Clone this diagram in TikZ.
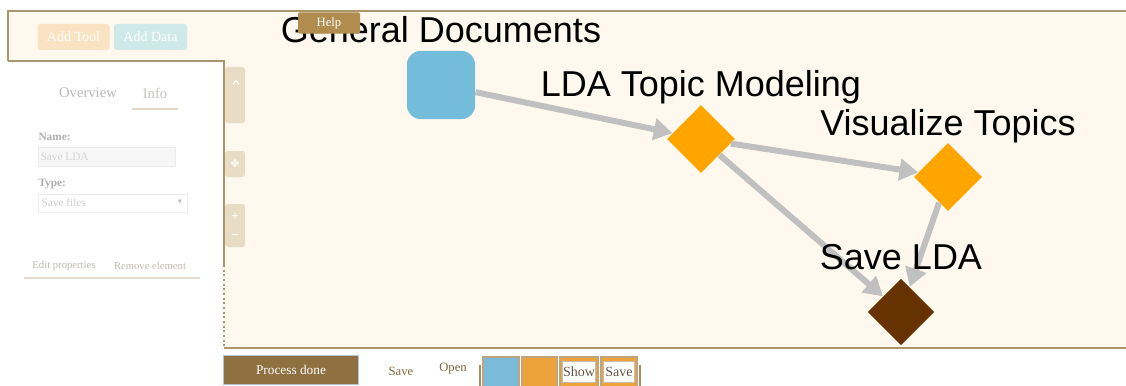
\documentclass[tikz,border=0pt]{standalone}
\usepackage{fontspec}
\setmainfont{Liberation Serif}
\setsansfont{Liberation Sans}
\newfontfamily\symfont{DejaVu Sans}
\usetikzlibrary{shapes.geometric,arrows.meta,positioning}

\tikzset{every picture/.style={line width=0.75pt}}
\tikzset{
  doclabel/.style={font=\sffamily\fontsize{27}{30}\selectfont, inner sep=0pt, anchor=base},
  datanode/.style={fill={rgb, 255:red, 116; green, 189; blue, 218}, rounded corners=10pt, minimum size=51pt, inner sep=0pt},
  toolnode/.style={diamond, fill={rgb, 255:red, 255; green, 165; blue, 0}, minimum size=51pt, inner sep=0pt},
  savenode/.style={diamond, fill={rgb, 255:red, 102; green, 51; blue, 0}, minimum size=50pt, inner sep=0pt},
  flow/.style={draw={rgb, 255:red, 192; green, 192; blue, 192}, line width=4.5pt, -{Triangle[length=14pt,width=16pt]}},
  canvasline/.style={draw={rgb, 255:red, 172; green, 150; blue, 112}, line width=1.5pt},
  panelfont/.style={font=\fontsize{8}{10}\selectfont, inner sep=0pt},
  sidetab/.style={fill={rgb, 255:red, 233; green, 220; blue, 196}, rounded corners=2pt},
  swatch/.style={draw={rgb, 255:red, 190; green, 165; blue, 125}, line width=1.5pt},
}

\begin{document}
\begin{tikzpicture}[x=0.75pt,y=0.75pt,yscale=-1,xscale=1]
\fill[white] (0,0) rectangle (1126,385);
\useasboundingbox (0,0) rectangle (1126,385);

%Canvas
\fill[fill={rgb, 255:red, 254; green, 248; blue, 238}] (8,11) -- (1126,11) -- (1126,348) -- (224,348) -- (224,61) -- (8,61) -- cycle ;
\draw[canvasline] (8,61) -- (8,11) -- (1126,11) ;
\draw[canvasline] (8,61) -- (224,61) -- (224,265) ;
\draw[canvasline, dotted] (224,265) -- (224,348) ;
\draw[canvasline] (224,348) -- (1126,348) ;

%Top buttons
\node[fill={rgb, 255:red, 249; green, 227; blue, 194}, rounded corners=2pt, minimum width=54pt, minimum height=19.5pt, text=white, font=\fontsize{10.5}{12}\selectfont] (addtool) at (73.5,37) {Add Tool};
\node[fill={rgb, 255:red, 207; green, 232; blue, 234}, rounded corners=2pt, minimum width=55pt, minimum height=19.5pt, text=white, font=\fontsize{10.5}{12}\selectfont] (adddata) at (150.5,37) {Add Data};

%Side tabs
\fill[sidetab] (225,67) rectangle (245,123) ;
\fill[sidetab] (225,151) rectangle (245,177) ;
\fill[sidetab] (225,204) rectangle (245,247) ;
\draw[white, line width=1pt, line cap=round] (233.5,84) .. controls (234.5,80) and (237.5,80) .. (238.5,84) ;
\node[text=white, font=\symfont\fontsize{8}{8}\selectfont, inner sep=0pt] (movebtn) at (235,164) {✥};
\node[text=white, font=\symfont\fontsize{8}{8}\selectfont, inner sep=0pt] (zoomin) at (235,216) {+};
\node[text=white, font=\symfont\fontsize{8}{8}\selectfont, inner sep=0pt] (zoomout) at (235,237) {−};

%Graph nodes
\node[datanode] (gd) at (441,85) {};
\node[toolnode] (lda) at (701,139) {};
\node[toolnode] (vis) at (948,177) {};
\node[savenode] (save) at (901,312) {};

%Flows
\draw[flow] (gd) -- (lda) ;
\draw[flow] (lda) -- (vis) ;
\draw[flow] (lda) -- (save) ;
\draw[flow] (vis) -- (save) ;

% Text Node
\node[doclabel] (gdlabel) at (441,43) {General Documents};
% Text Node
\node[doclabel] (ldalabel) at (701,96) {LDA Topic Modeling};
% Text Node
\node[doclabel] (vislabel) at (948,135) {Visualize Topics};
% Text Node
\node[doclabel] (savelabel) at (901,269) {Save LDA};

%Help
\node[fill={rgb, 255:red, 176; green, 140; blue, 78}, rounded corners=1.5pt, minimum width=46.5pt, minimum height=16pt, text=white, font=\fontsize{9.5}{11}\selectfont] (help) at (329,23) {Help};

%Left panel
\node[font=\fontsize{11}{13}\selectfont, text={rgb, 255:red, 185; green, 185; blue, 185}, inner sep=0pt] (overview) at (88,93) {Overview};
\node[font=\fontsize{11}{13}\selectfont, text={rgb, 255:red, 200; green, 195; blue, 190}, inner sep=0pt] (info) at (155,93) {Info};
\draw[draw={rgb, 255:red, 228; green, 214; blue, 192}, line width=1.5pt] (132,109) -- (178,109) ;
\node[panelfont, font=\bfseries\fontsize{8.5}{10}\selectfont, text={rgb, 255:red, 175; green, 175; blue, 175}, anchor=west] (namelbl) at (38,137) {Name:};
\draw[draw={rgb, 255:red, 236; green, 236; blue, 236}, fill={rgb, 255:red, 246; green, 246; blue, 246}] (38,147) rectangle (175,166) ;
\node[panelfont, font=\fontsize{8.5}{10}\selectfont, text={rgb, 255:red, 212; green, 212; blue, 212}, anchor=west] (nameval) at (40,157) {Save LDA};
\node[panelfont, font=\bfseries\fontsize{8.5}{10}\selectfont, text={rgb, 255:red, 175; green, 175; blue, 175}, anchor=west] (typelbl) at (38,184) {Type:};
\draw[draw={rgb, 255:red, 236; green, 236; blue, 236}, fill=white] (38,194) rectangle (187,212) ;
\node[panelfont, font=\fontsize{8.5}{10}\selectfont, text={rgb, 255:red, 205; green, 205; blue, 205}, anchor=west] (typeval) at (41,203) {Save files};
\node[panelfont, font=\symfont\fontsize{4}{5}\selectfont, text={rgb, 255:red, 190; green, 190; blue, 190}] (typearrow) at (180,202) {▼};
\node[panelfont, text={rgb, 255:red, 190; green, 185; blue, 180}] (editprop) at (64,266) {Edit properties};
\node[panelfont, text={rgb, 255:red, 190; green, 185; blue, 180}] (removeel) at (150,266) {Remove element};
\draw[draw={rgb, 255:red, 230; green, 220; blue, 203}, line width=1.5pt] (24,278) -- (200,278) ;

%Bottom bar
\node[fill={rgb, 255:red, 143; green, 112; blue, 64}, draw={rgb, 255:red, 175; green, 198; blue, 222}, minimum width=101pt, minimum height=21.5pt, text=white, font=\fontsize{10}{12}\selectfont] (process) at (291,370) {Process done};
\node[font=\fontsize{9.5}{11}\selectfont, text={rgb, 255:red, 130; green, 100; blue, 60}, inner sep=0pt] (savebtn) at (401,371) {Save};
\node[font=\fontsize{9.5}{11}\selectfont, text={rgb, 255:red, 130; green, 100; blue, 60}, inner sep=0pt] (openbtn) at (453,369) {Open};
\draw[draw={rgb, 255:red, 170; green, 140; blue, 95}, line width=1.5pt] (480,365) -- (480,386) ;
\draw[draw={rgb, 255:red, 170; green, 140; blue, 95}, line width=1.5pt] (640,365) -- (640,386) ;
\draw[swatch, fill={rgb, 255:red, 121; green, 187; blue, 216}] (483,357) rectangle (519,387) ;
\draw[swatch, fill={rgb, 255:red, 238; green, 163; blue, 58}] (522,357) rectangle (557,387) ;
\draw[swatch, fill={rgb, 255:red, 238; green, 163; blue, 58}] (560,357) rectangle (598,387) ;
\draw[swatch, fill={rgb, 255:red, 238; green, 163; blue, 58}] (601,357) rectangle (637,387) ;
\node[draw={rgb, 255:red, 200; green, 190; blue, 175}, fill=white, minimum width=25pt, minimum height=16pt, inner sep=0pt, text={rgb, 255:red, 100; green, 85; blue, 70}, font=\fontsize{10.5}{12}\selectfont] (showbox) at (579,372) {Show};
\node[draw={rgb, 255:red, 200; green, 190; blue, 175}, fill=white, minimum width=23.5pt, minimum height=16pt, inner sep=0pt, text={rgb, 255:red, 100; green, 85; blue, 70}, font=\fontsize{10.5}{12}\selectfont] (savebox) at (619,372) {Save};

\end{tikzpicture}
\end{document}
